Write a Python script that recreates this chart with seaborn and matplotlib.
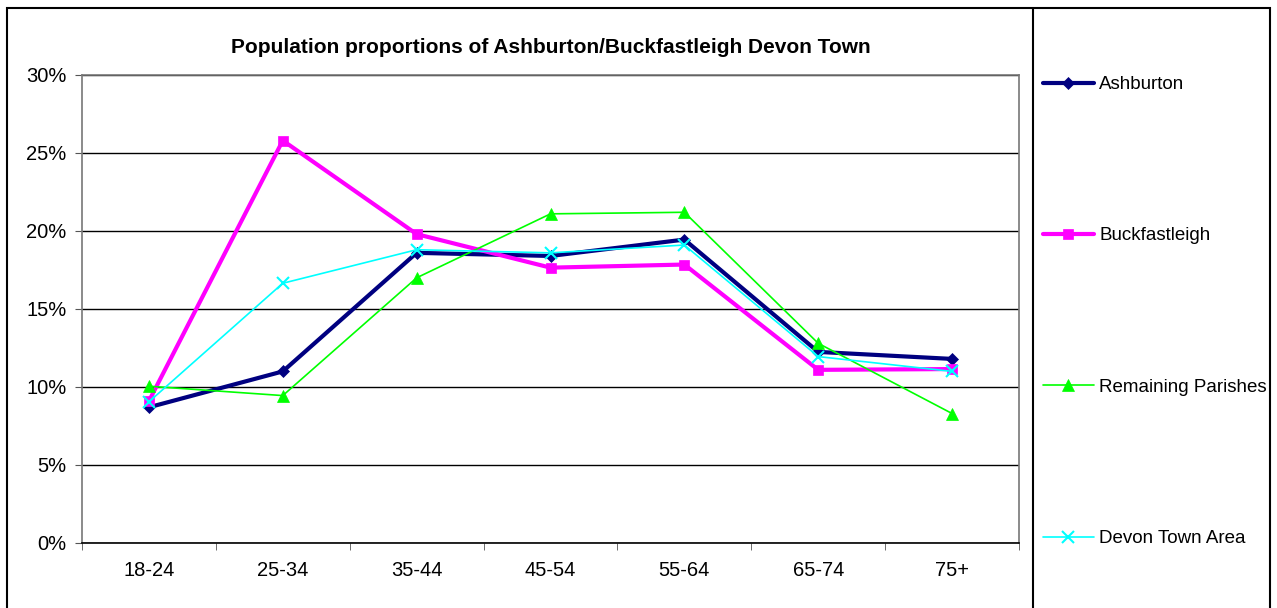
import numpy as np
import pandas as pd
import matplotlib
matplotlib.use("Agg")
import matplotlib.pyplot as plt
from matplotlib.lines import Line2D
from matplotlib.patches import Rectangle
from matplotlib.ticker import PercentFormatter, FixedLocator
import seaborn as sns

# Data (percent of population)
age_groups = ["18-24", "25-34", "35-44", "45-54", "55-64", "65-74", "75+"]
ashburton = [8.7, 11.0, 18.6, 18.4, 19.45, 12.25, 11.8]
buckfastleigh = [9.1, 25.8, 19.8, 17.65, 17.85, 11.1, 11.15]
remaining_parishes = [10.05, 9.45, 17.0, 21.1, 21.2, 12.8, 8.3]
devon_town_area = [9.05, 16.65, 18.8, 18.6, 19.1, 11.95, 11.0]

series_names = ["Ashburton", "Buckfastleigh", "Remaining Parishes", "Devon Town Area"]
series_values = [ashburton, buckfastleigh, remaining_parishes, devon_town_area]

colors = {"Ashburton": "#000080", "Buckfastleigh": "#FF00FF",
          "Remaining Parishes": "#00FF00", "Devon Town Area": "#00FFFF"}
markers = {"Ashburton": "D", "Buckfastleigh": "s",
           "Remaining Parishes": "^", "Devon Town Area": "x"}
widths = {"Ashburton": 3.0, "Buckfastleigh": 3.0,
          "Remaining Parishes": 1.2, "Devon Town Area": 1.2}
msizes = {"Ashburton": 6.5, "Buckfastleigh": 7,
          "Remaining Parishes": 8, "Devon Town Area": 8}

df = pd.DataFrame({
    "age": age_groups * len(series_names),
    "share": np.concatenate(series_values),
    "series": np.repeat(series_names, len(age_groups)),
})

sns.set_style("white")
plt.rcParams["font.family"] = ["Liberation Sans", "DejaVu Sans"]
plt.rcParams["text.color"] = "black"
plt.rcParams["xtick.color"] = "black"
plt.rcParams["ytick.color"] = "black"

fig = plt.figure(figsize=(12.77, 6.08), dpi=100)
ax = fig.add_axes([82 / 1277, 65 / 608, (1019 - 82) / 1277, (543 - 75) / 608])

for name in series_names:
    sub = df[df["series"] == name]
    sns.lineplot(data=sub, x="age", y="share", ax=ax, sort=False,
                 color=colors[name], linewidth=widths[name],
                 marker=markers[name], markersize=msizes[name],
                 markeredgecolor=colors[name],
                 markeredgewidth=1.5 if name == "Devon Town Area" else 0.5,
                 label=name, legend=False)

ax.set_xlim(-0.5, len(age_groups) - 0.5)
ax.set_ylim(0, 30)
ax.yaxis.set_major_locator(FixedLocator([0, 5, 10, 15, 20, 25, 30]))
ax.yaxis.set_major_formatter(PercentFormatter(decimals=0))
ax.grid(axis="y", color="black", linewidth=1.0)
ax.set_xlabel("")
ax.set_ylabel("")

ax.set_xticks(range(len(age_groups)))
ax.set_xticklabels(age_groups)
ax.set_xticks(np.arange(-0.5, len(age_groups), 1.0), minor=True)
ax.tick_params(axis="x", which="major", length=0, pad=13, labelsize=14.5, labelcolor="black")
ax.tick_params(axis="x", which="minor", length=5, direction="out", color="#555555")
ax.tick_params(axis="y", length=5, direction="out", pad=6, labelsize=14.5,
               color="#555555", labelcolor="black")
ax.xaxis.set_tick_params(bottom=True, which="both")
ax.yaxis.set_tick_params(left=True)

for side in ["left", "bottom", "right", "top"]:
    ax.spines[side].set_visible(True)
    ax.spines[side].set_color("#777777")
    ax.spines[side].set_linewidth(1.2)
ax.spines["bottom"].set_color("black")

ax.set_title("Population proportions of Ashburton/Buckfastleigh Devon Town",
             fontsize=15, fontweight="bold", pad=16, color="black")

# Legend panel on the right
handles = [Line2D([], [], color=colors[n], linewidth=widths[n], marker=markers[n],
                  markersize=msizes[n], markeredgecolor=colors[n],
                  markeredgewidth=1.5 if n == "Devon Town Area" else 0.5)
           for n in series_names]
fig.legend(handles, series_names, loc="upper left",
           bbox_to_anchor=(1043 / 1277, (608 - 76) / 608),
           frameon=False, fontsize=13.5, labelspacing=7.16,
           handlelength=2.7, handletextpad=0.3, borderpad=0, borderaxespad=0,
           labelcolor="black")

# Outer chart border and legend divider
fig.patches.append(Rectangle((7 / 1277, -0.01), (1270 - 7) / 1277, 600 / 608 + 0.01,
                             transform=fig.transFigure, fill=False,
                             edgecolor="black", linewidth=1.5))
fig.lines.append(Line2D([1033 / 1277, 1033 / 1277], [0, 600 / 608],
                        transform=fig.transFigure, color="black", linewidth=1.5))

fig.savefig("out.png", dpi=100)
